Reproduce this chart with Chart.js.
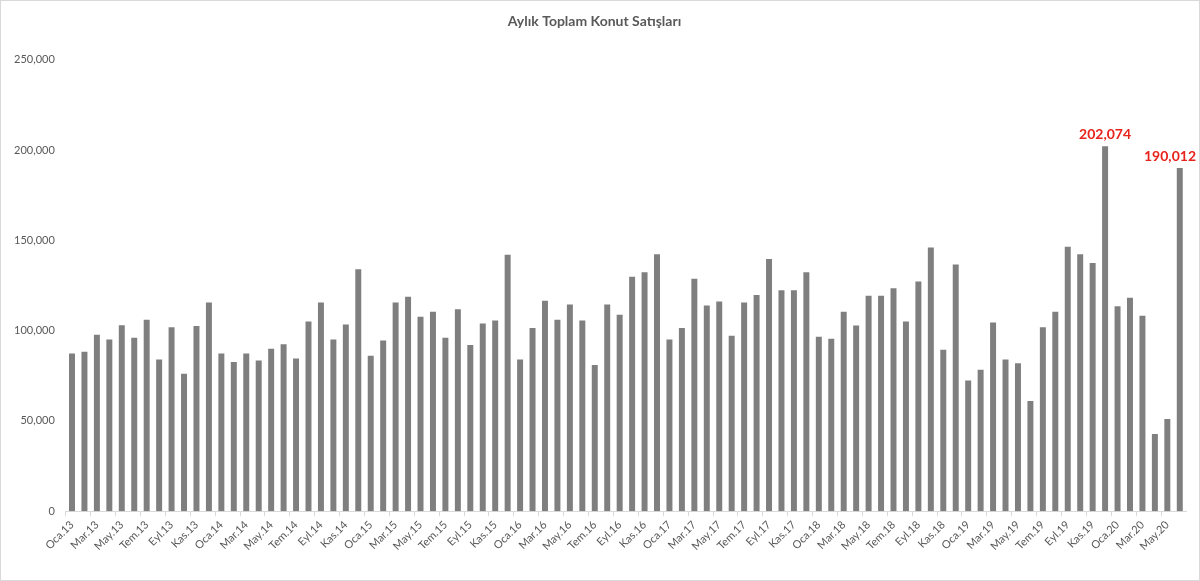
<!DOCTYPE html>
<html>
<head>
<meta charset="utf-8">
<script src="https://cdn.jsdelivr.net/npm/chart.js@4"></script>
<style>
  html, body { margin: 0; padding: 0; background: #fff; }
  #wrap { width: 1198px; height: 579px; border: 1px solid #d9d9d9; }
</style>
</head>
<body>
<div id="wrap"><canvas id="myChart" width="1198" height="579"></canvas></div>
<script>
// monthly housing sales, Oca.13 - Haz.20
var monthNames = ["Oca", "Şub", "Mar", "Nis", "May", "Haz", "Tem", "Ağu", "Eyl", "Eki", "Kas", "Ara"];
var years = ["13", "14", "15", "16", "17", "18", "19", "20"];

var sales13 = [87400, 88300, 97700, 95100, 103000, 96000, 106000, 84000, 101900, 76100, 102500, 115600];
var sales14 = [87400, 82600, 87400, 83500, 90000, 92500, 84600, 105000, 115600, 95100, 103400, 134000];
var sales15 = [86100, 94600, 115600, 118700, 107700, 110400, 96000, 111900, 92000, 104000, 105600, 142000];
var sales16 = [84000, 101400, 116500, 106000, 114500, 105600, 80900, 114500, 108800, 129800, 132400, 142300];
var sales17 = [95100, 101400, 128700, 113900, 116100, 97200, 115600, 119800, 139700, 122400, 122400, 132400];
var sales18 = [96600, 95500, 110400, 102900, 119300, 119300, 123500, 105100, 127200, 146000, 89400, 136600];
var sales19 = [72400, 78300, 104500, 84000, 82000, 61000, 101900, 110400, 146500, 142300, 137500, 202074];
var sales20 = [113500, 118200, 108200, 42700, 51000, 190012];

var labelledMonths = ["Ara.19", "Haz.20"];

var yTicks = [0, 50000, 100000, 150000, 200000, 250000];

var sales = [].concat(sales13, sales14, sales15, sales16, sales17, sales18, sales19, sales20);
var categories = [];
years.forEach(function (y) {
	monthNames.forEach(function (m) {
		if (categories.length < sales.length) categories.push(m + "." + y);
	});
});

var textColor = "#595959";
Chart.defaults.font.family = "Lato, 'Open Sans', sans-serif";
Chart.defaults.font.size = 11;
Chart.defaults.color = textColor;

// red value labels on the two peaks, kept inside the canvas like excel does
var peakLabels = {
	id: "peakLabels",
	afterDatasetsDraw: function (chart) {
		var ctx = chart.ctx;
		var meta = chart.getDatasetMeta(0);
		ctx.save();
		ctx.fillStyle = "#e8221c";
		ctx.font = "bold 14px Lato, 'Open Sans', sans-serif";
		ctx.textAlign = "center";
		ctx.textBaseline = "bottom";
		meta.data.forEach(function (bar, i) {
			if (labelledMonths.indexOf(categories[i]) >= 0) {
				var txt = sales[i].toLocaleString("en-US");
				var w = ctx.measureText(txt).width;
				var x = Math.min(bar.x, chart.width - 3 - w / 2);
				ctx.fillText(txt, x, bar.y - 5);
			}
		});
		ctx.restore();
	},
};

var salesChart = new Chart(document.getElementById("myChart"), {
	type: "bar",
	data: {
		labels: categories,
		datasets: [
			{
				label: "Konut Satışları",
				data: sales,
				backgroundColor: "#7f7f7f",
				categoryPercentage: 1,
				barPercentage: 0.48,
			},
		],
	},
	options: {
		responsive: false,
		animation: false,
		layout: { padding: { left: 2, right: 13, top: 4, bottom: 25 } },
		plugins: {
			legend: { display: false },
			tooltip: { enabled: false },
			title: {
				display: true,
				text: "Aylık Toplam Konut Satışları",
				color: textColor,
				font: { size: 14, weight: "bold" },
				padding: { top: 8, bottom: 30 },
			},
		},
		scales: {
			x: {
				// let the rotated labels hang out to the left, don't squeeze the plot
				afterFit: function (axis) {
					axis.paddingLeft = 0;
					axis.paddingRight = 0;
				},
				grid: {
					display: true,
					drawOnChartArea: false,
					offset: true,
					tickLength: 5,
					color: function (c) { return c.index % 2 === 0 ? "#d9d9d9" : "rgba(0,0,0,0)"; },
				},
				border: { color: "#d9d9d9" },
				ticks: {
					autoSkip: false,
					maxRotation: 45,
					minRotation: 45,
					padding: 2,
					callback: function (v, i) { return i % 2 === 0 ? categories[i] : ""; },
				},
			},
			y: {
				min: 0,
				max: 250000,
				afterBuildTicks: function (axis) {
					axis.ticks = yTicks.map(function (v) { return { value: v }; });
				},
				grid: { display: false, drawTicks: false },
				border: { display: false },
				ticks: {
					padding: 11,
					callback: function (v) { return v.toLocaleString("en-US"); },
				},
			},
		},
	},
	plugins: [peakLabels],
});
</script>
</body>
</html>
